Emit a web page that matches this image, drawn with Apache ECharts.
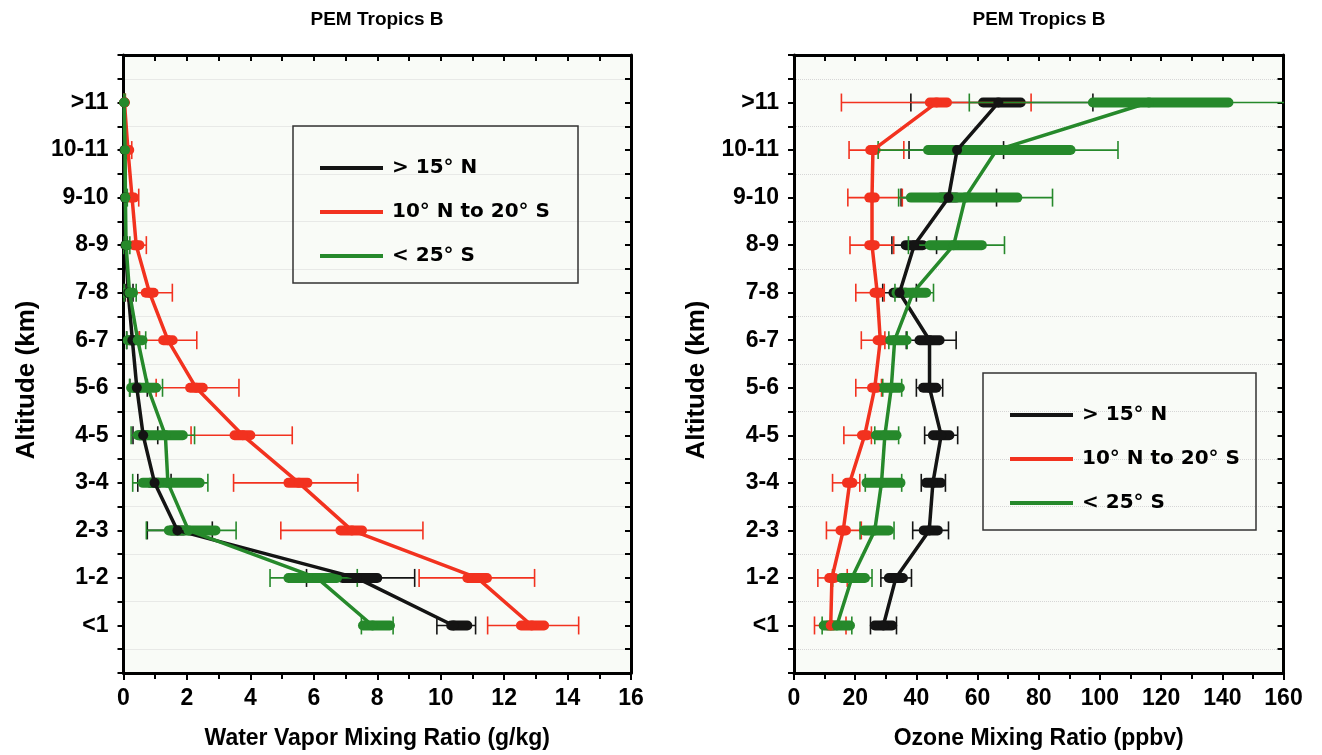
<!DOCTYPE html>
<html><head><meta charset="utf-8">
<script src="https://cdn.jsdelivr.net/npm/echarts@6/dist/echarts.min.js"></script>
<style>html,body{margin:0;padding:0;background:#fff}#c{width:1322px;height:755px}</style>
</head><body><div id="c"></div><script>
// ---------- data ----------
const altitudes = ['<1','1-2','2-3','3-4','4-5','5-6','6-7','7-8','8-9','9-10','10-11','>11'];
const groupNames = ['> 15° N', '10° N to 20° S', '< 25° S'];
const panelTitle = 'PEM Tropics B';
const wvAxisName = 'Water Vapor Mixing Ratio (g/kg)';
const o3AxisName = 'Ozone Mixing Ratio (ppbv)';
const altAxisName = 'Altitude (km)';

// Water vapour (g/kg)
const wvNorthMean  = [10.4, 7.35, 1.7, 0.98, 0.62, 0.42, 0.28, 0.15, 0.06, 0.04, 0.03, 0.02];
const wvNorthBarLo = [10.33, 6.9, 1.5, 0.85, 0.5, 0.33, 0.2, 0.1, 0.04, 0.03, 0.02, 0.01];
const wvNorthBarHi = [10.84, 8.0, 1.9, 1.1, 0.72, 0.5, 0.35, 0.2, 0.08, 0.05, 0.04, 0.03];
const wvNorthErrLo = [9.88, 5.77, 0.75, 0.45, 0.3, 0.2, 0.1, 0.05, 0.02, 0.01, 0.01, 0];
const wvNorthErrHi = [11.1, 9.18, 2.8, 1.5, 1.08, 0.75, 0.5, 0.3, 0.12, 0.08, 0.06, 0.04];

const wvTropMean  = [12.87, 11.15, 7.2, 5.53, 3.76, 2.29, 1.4, 0.82, 0.4, 0.27, 0.14, 0.03];
const wvTropBarLo = [12.53, 10.84, 6.84, 5.2, 3.5, 2.1, 1.25, 0.7, 0.32, 0.2, 0.1, 0.02];
const wvTropBarHi = [13.26, 11.46, 7.52, 5.8, 4.0, 2.5, 1.55, 0.95, 0.5, 0.33, 0.18, 0.04];
const wvTropErrLo = [11.48, 9.32, 4.96, 3.47, 2.13, 1.03, 0.5, 0.13, 0.08, 0.05, 0.03, 0];
const wvTropErrHi = [14.35, 12.96, 9.44, 7.39, 5.32, 3.64, 2.31, 1.54, 0.72, 0.48, 0.26, 0.06];

const wvSouthMean  = [7.85, 6.1, 2.05, 1.4, 1.32, 0.77, 0.45, 0.19, 0.08, 0.06, 0.05, 0.02];
const wvSouthBarLo = [7.55, 5.2, 1.43, 0.61, 0.45, 0.24, 0.13, 0.03, 0.03, 0.02, 0.02, 0.01];
const wvSouthBarHi = [8.4, 6.73, 2.9, 2.4, 1.87, 1.03, 0.6, 0.3, 0.13, 0.1, 0.08, 0.03];
const wvSouthErrLo = [7.5, 4.62, 0.72, 0.29, 0.24, 0.19, 0.1, 0.02, 0.01, 0, 0, 0];
const wvSouthErrHi = [8.5, 7.37, 3.55, 2.66, 2.24, 1.23, 0.7, 0.4, 0.2, 0.12, 0.1, 0.05];

// Ozone (ppbv)
const o3NorthMean  = [29.2, 33.3, 44.2, 45.4, 48.1, 44.3, 44.3, 34.5, 39.3, 50.5, 53.3, 66.8];
const o3NorthBarLo = [26.4, 31, 42.4, 43.2, 45.4, 42.2, 41, 32.5, 36.5, 48, 50.5, 61.8];
const o3NorthBarHi = [32.1, 35.6, 47, 48, 50.8, 46.5, 47.6, 36.5, 42.1, 53, 56, 74.1];
const o3NorthErrLo = [25, 28.4, 38.8, 41.6, 42.7, 40, 36.7, 29, 32, 35, 37.6, 38.2];
const o3NorthErrHi = [33.5, 38.4, 50.5, 49.5, 53.5, 48.6, 53, 40, 46.6, 66.2, 68.5, 97.7];

const o3TropMean  = [12, 12.4, 16.1, 18.2, 23.1, 26.4, 28.2, 27.2, 25.5, 25.5, 25.8, 46.6];
const o3TropBarLo = [11, 11.5, 15.2, 17.3, 22.2, 25.5, 27.3, 26.3, 24.6, 24.6, 24.9, 44.4];
const o3TropBarHi = [13, 13.3, 17, 19.1, 24, 27.3, 29.1, 28.1, 26.4, 26.4, 26.7, 50];
const o3TropErrLo = [6.7, 7.8, 10.6, 12.6, 16.3, 20.2, 22, 20.2, 18.3, 17.6, 18, 15.5];
const o3TropErrHi = [17, 17.4, 22, 21.5, 25.3, 28.6, 29.7, 29.5, 32.6, 35.4, 35.9, 77.5];

const o3SouthMean  = [14, 18.9, 26.4, 28.6, 29.7, 31.8, 32.9, 38.9, 52.2, 56, 66.2, 116];
const o3SouthBarLo = [9.7, 15.5, 22.9, 23.7, 26.8, 29.1, 31.4, 33.5, 44.4, 38.2, 43.8, 97.7];
const o3SouthBarHi = [18.3, 23.2, 31, 34.8, 33.5, 34.6, 36.8, 43.2, 61.4, 73, 90.4, 142];
const o3SouthErrLo = [9.2, 12.6, 21.6, 23.3, 26.4, 29, 31, 33, 37.4, 34.2, 27.5, 57.3];
const o3SouthErrHi = [18.9, 25.5, 32.7, 35.2, 34.2, 35.2, 37, 45.6, 68.8, 84.5, 105.9, 165];

// ---------- styles ----------
const colors = ['#141414', '#f2321f', '#26892b'];
const FONT = 'Liberation Sans, Arial, sans-serif';
const LEGEND_FONT = 'DejaVu Sans, Liberation Sans, sans-serif';

const panels = [
  { sets: [
      [wvNorthMean, wvNorthBarLo, wvNorthBarHi, wvNorthErrLo, wvNorthErrHi],
      [wvTropMean, wvTropBarLo, wvTropBarHi, wvTropErrLo, wvTropErrHi],
      [wvSouthMean, wvSouthBarLo, wvSouthBarHi, wvSouthErrLo, wvSouthErrHi]],
    max: 16, major: 2, top: 1, name: wvAxisName },
  { sets: [
      [o3NorthMean, o3NorthBarLo, o3NorthBarHi, o3NorthErrLo, o3NorthErrHi],
      [o3TropMean, o3TropBarLo, o3TropBarHi, o3TropErrLo, o3TropErrHi],
      [o3SouthMean, o3SouthBarLo, o3SouthBarHi, o3SouthErrLo, o3SouthErrHi]],
    max: 160, major: 20, top: 10, name: o3AxisName }
];

const gridPos = [
  { left: 123.5, width: 507.5 },
  { left: 794, width: 489.5 }
];

function errRender(color) {
  return function (params, api) {
    const y = api.value(0);
    const lo = api.coord([api.value(1), y]);
    const hi = api.coord([api.value(2), y]);
    const bLo = api.coord([api.value(3), y]);
    const bHi = api.coord([api.value(4), y]);
    const thin = { stroke: color, lineWidth: 1.6 };
    const cap = 9;
    return { type: 'group', children: [
      { type: 'line', shape: { x1: lo[0], y1: lo[1], x2: hi[0], y2: hi[1] }, style: thin },
      { type: 'line', shape: { x1: lo[0], y1: lo[1] - cap, x2: lo[0], y2: lo[1] + cap }, style: thin },
      { type: 'line', shape: { x1: hi[0], y1: hi[1] - cap, x2: hi[0], y2: hi[1] + cap }, style: thin },
      { type: 'line', shape: { x1: bLo[0], y1: bLo[1], x2: bHi[0] + 0.01, y2: bHi[1] },
        style: { stroke: color, lineWidth: 10, lineCap: 'round' } }
    ]};
  };
}

const grids = [], xAxes = [], yAxes = [], series = [];
panels.forEach((p, pi) => {
  grids.push({ left: gridPos[pi].left, width: gridPos[pi].width, top: 55, height: 618.5,
    show: true, backgroundColor: '#f9fbf7', borderWidth: 0 });
  const line = { show: true, onZero: false, lineStyle: { color: '#000', width: 3 } };
  xAxes.push({ type: 'value', gridIndex: pi, position: 'bottom', min: 0, max: p.max, interval: p.major,
    axisLine: line,
    axisTick: { show: true, length: 7, lineStyle: { color: '#000', width: 2 } },
    minorTick: { show: true, splitNumber: 2, length: 6, lineStyle: { color: '#000', width: 2 } },
    splitLine: { show: false },
    axisLabel: { color: '#000', fontSize: 23, fontWeight: 'bold', fontFamily: FONT, margin: 14 },
    name: p.name, nameLocation: 'middle', nameGap: 54,
    nameTextStyle: { color: '#000', fontSize: 23, fontWeight: 'bold', fontFamily: FONT } });
  xAxes.push({ type: 'value', gridIndex: pi, position: 'top', min: 0, max: p.max, interval: p.top,
    axisLine: line,
    axisTick: { show: true, inside: true, length: 6, lineStyle: { color: '#000', width: 2 } },
    axisLabel: { show: false }, splitLine: { show: false } });
  yAxes.push({ type: 'value', gridIndex: pi, position: 'left', min: 0, max: 13, interval: 0.5,
    axisLine: line,
    axisTick: { show: true, length: 6, lineStyle: { color: '#000', width: 2 } },
    axisLabel: { color: '#000', fontSize: 23, fontWeight: 'bold', fontFamily: FONT, margin: 15,
      formatter: v => (Number.isInteger(v) && v >= 1 && v <= altitudes.length) ? altitudes[v - 1] : '' },
    splitLine: { show: true, lineStyle: { color: ['rgba(0,0,0,0)', '#d6d6d6'], type: 'dotted', width: 1 } },
    name: altAxisName, nameLocation: 'middle', nameGap: 84, nameRotate: 90,
    nameTextStyle: { color: '#000', fontSize: 26, fontWeight: 'bold', fontFamily: FONT, padding: [0, 32, 0, 0] } });
  yAxes.push({ type: 'value', gridIndex: pi, position: 'right', min: 0, max: 13, interval: 0.5,
    axisLine: line,
    axisTick: { show: true, inside: true, length: 6, lineStyle: { color: '#000', width: 2 } },
    axisLabel: { show: false }, splitLine: { show: false } });

  p.sets.forEach((s, gi) => {
    const [mean, bLo, bHi, eLo, eHi] = s;
    const errData = altitudes.map((a, i) => [i + 1, eLo[i], eHi[i], bLo[i], bHi[i]]);
    series.push({ type: 'custom', name: groupNames[gi], xAxisIndex: pi * 2, yAxisIndex: pi * 2,
      clip: true, itemStyle: { color: colors[gi] },
      encode: { x: [1, 2, 3, 4], y: 0 }, data: errData, renderItem: errRender(colors[gi]) });
    series.push({ type: 'line', name: groupNames[gi], xAxisIndex: pi * 2, yAxisIndex: pi * 2,
      clip: true, data: altitudes.map((a, i) => [mean[i], i + 1]),
      symbol: 'circle', symbolSize: 10, showSymbol: true,
      itemStyle: { color: colors[gi] }, lineStyle: { color: colors[gi], width: 3.5 } });
  });
});

const legendBase = { orient: 'vertical', padding: 0, itemWidth: 63, itemHeight: 4, itemGap: 20, icon: 'rect',
  data: groupNames, textStyle: { fontSize: 20, fontWeight: 'bold', color: '#000', fontFamily: LEGEND_FONT,
    lineHeight: 24, padding: [0, 0, 0, 4] } };

const option = {
  animation: false,
  backgroundColor: '#ffffff',
  textStyle: { fontFamily: FONT },
  grid: grids, xAxis: xAxes, yAxis: yAxes, series: series,
  legend: [
    Object.assign({}, legendBase, { left: 320, top: 156 }),
    Object.assign({}, legendBase, { left: 1010, top: 403 })
  ],
  graphic: [
    { type: 'text', x: 377, y: 20, style: { text: panelTitle, textAlign: 'center', textVerticalAlign: 'middle',
      font: 'bold 19px ' + FONT, fill: '#000' } },
    { type: 'text', x: 1039, y: 20, style: { text: panelTitle, textAlign: 'center', textVerticalAlign: 'middle',
      font: 'bold 19px ' + FONT, fill: '#000' } },
    { type: 'rect', shape: { x: 293, y: 126, width: 285, height: 157 }, z: 100,
      style: { fill: 'none', stroke: '#333', lineWidth: 1.5 } },
    { type: 'rect', shape: { x: 983, y: 373, width: 273, height: 157 }, z: 100,
      style: { fill: 'none', stroke: '#333', lineWidth: 1.5 } }
  ]
};

const chart = echarts.init(document.getElementById('c'), null, { renderer: 'canvas' });
chart.setOption(option);
</script></body></html>
